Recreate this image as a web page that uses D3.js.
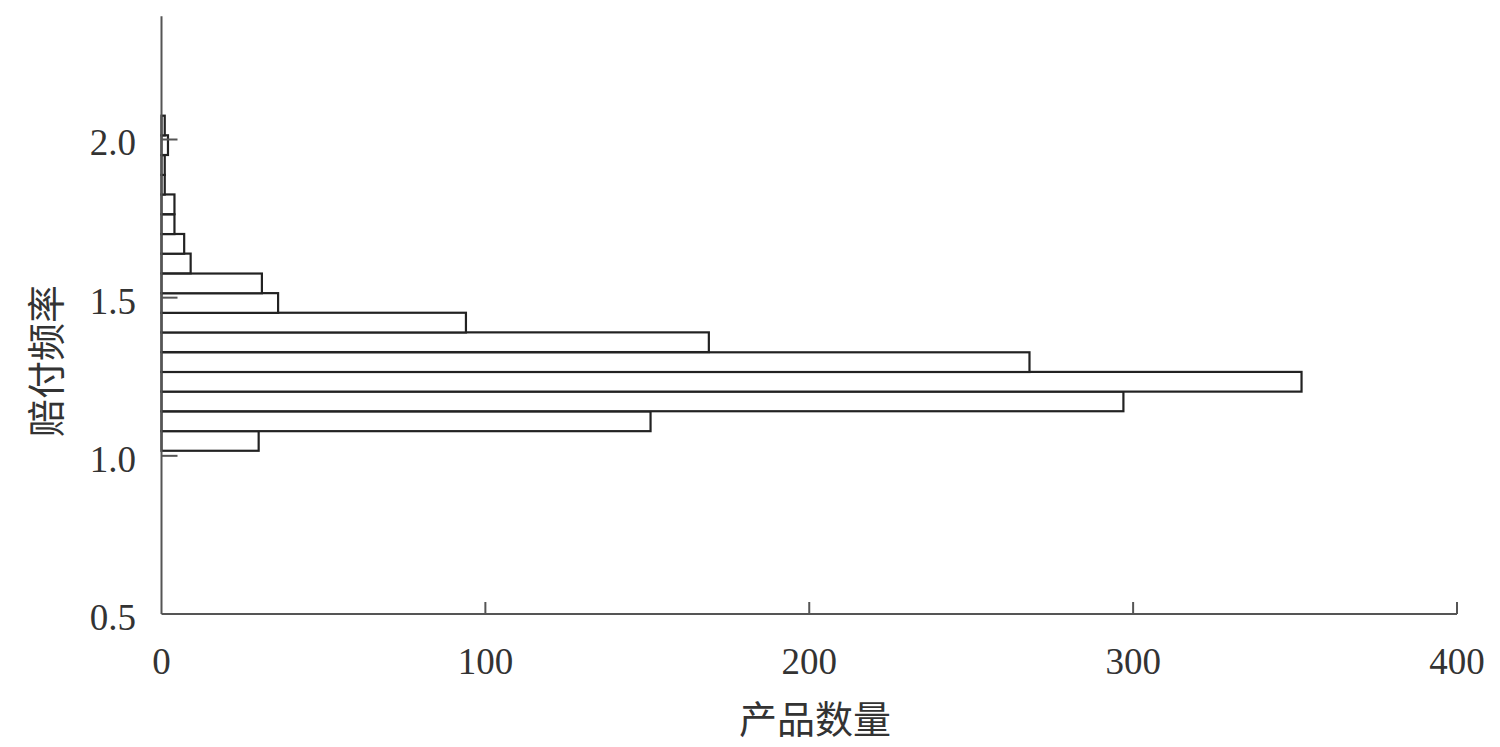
<!DOCTYPE html>
<html>
<head>
<meta charset="utf-8">
<script src="https://cdn.jsdelivr.net/npm/d3@7"></script>
<style>
  html, body { margin: 0; padding: 0; background: #fff; }
  svg { display: block; }
</style>
</head>
<body>
<svg id="chart" width="1500" height="747"></svg>
<script>
// ---- data ----
const binLower = [1.016, 1.078, 1.141, 1.203, 1.265, 1.328, 1.390, 1.452, 1.514,
                  1.577, 1.639, 1.701, 1.764, 1.826, 1.888, 1.951, 2.013];
const binWidth = 0.0623;
const counts = [30, 151, 297, 352, 268, 169, 94, 36, 31, 9, 7, 4, 4, 1, 1, 2, 1];
const xTicks = [0, 100, 200, 300, 400];
const yTicks = [0.5, 1.0, 1.5, 2.0];
const xTitle = "产品数量";
const yTitle = "赔付频率";

// ---- layout ----
const svg = d3.select("#chart");
const x = d3.scaleLinear().domain([0, 400]).range([161.5, 1457]);
const y = d3.scaleLinear().domain([0.5, 2.0]).range([614, 139.5]);
const yTop = 2.39;

const axisColor = "#555";
const textColor = "#333";
const numFont = "'Liberation Serif', 'Times New Roman', serif";
const cjkFont = "'Noto Sans CJK SC', sans-serif";

// bars
svg.append("g").selectAll("rect")
  .data(counts.map((c, i) => ({ c, lo: binLower[i] })))
  .join("rect")
  .attr("x", x(0))
  .attr("y", d => y(d.lo + binWidth))
  .attr("width", d => x(d.c) - x(0))
  .attr("height", d => y(d.lo) - y(d.lo + binWidth))
  .attr("fill", "#fff")
  .attr("stroke", "#222")
  .attr("stroke-width", 2.2);

// x axis line
svg.append("line")
  .attr("x1", x(0)).attr("x2", x(400))
  .attr("y1", y(0.5)).attr("y2", y(0.5))
  .attr("stroke", axisColor).attr("stroke-width", 2);
// x ticks (inward)
svg.append("g").selectAll("line")
  .data(xTicks.filter(d => d > 0))
  .join("line")
  .attr("x1", d => x(d)).attr("x2", d => x(d))
  .attr("y1", y(0.5)).attr("y2", y(0.5) - 12)
  .attr("stroke", axisColor).attr("stroke-width", 2);
// x tick labels
svg.append("g").selectAll("text")
  .data(xTicks)
  .join("text")
  .attr("x", d => x(d))
  .attr("y", 674)
  .attr("text-anchor", "middle")
  .attr("font-family", numFont)
  .attr("font-size", 37)
  .attr("fill", textColor)
  .text(d => d);

// y axis line
svg.append("line")
  .attr("x1", x(0)).attr("x2", x(0))
  .attr("y1", y(0.5)).attr("y2", y(yTop))
  .attr("stroke", axisColor).attr("stroke-width", 2);
// y ticks (inward)
svg.append("g").selectAll("line")
  .data(yTicks.filter(d => d > 0.5))
  .join("line")
  .attr("x1", x(0)).attr("x2", x(0) + 16)
  .attr("y1", d => y(d)).attr("y2", d => y(d))
  .attr("stroke", axisColor).attr("stroke-width", 2);
// y tick labels
svg.append("g").selectAll("text")
  .data(yTicks)
  .join("text")
  .attr("x", 136)
  .attr("y", d => y(d) + 3)
  .attr("dy", "0.35em")
  .attr("text-anchor", "end")
  .attr("font-family", numFont)
  .attr("font-size", 37)
  .attr("fill", textColor)
  .text(d => d.toFixed(1));

// titles
svg.append("text")
  .attr("x", 815).attr("y", 720)
  .attr("dy", "0.35em")
  .attr("text-anchor", "middle")
  .attr("font-family", cjkFont)
  .attr("font-size", 38)
  .attr("fill", textColor)
  .text(xTitle);

svg.append("text")
  .attr("transform", "translate(47,361) rotate(-90)")
  .attr("dy", "0.35em")
  .attr("text-anchor", "middle")
  .attr("font-family", cjkFont)
  .attr("font-size", 38)
  .attr("fill", textColor)
  .text(yTitle);
</script>
</body>
</html>
